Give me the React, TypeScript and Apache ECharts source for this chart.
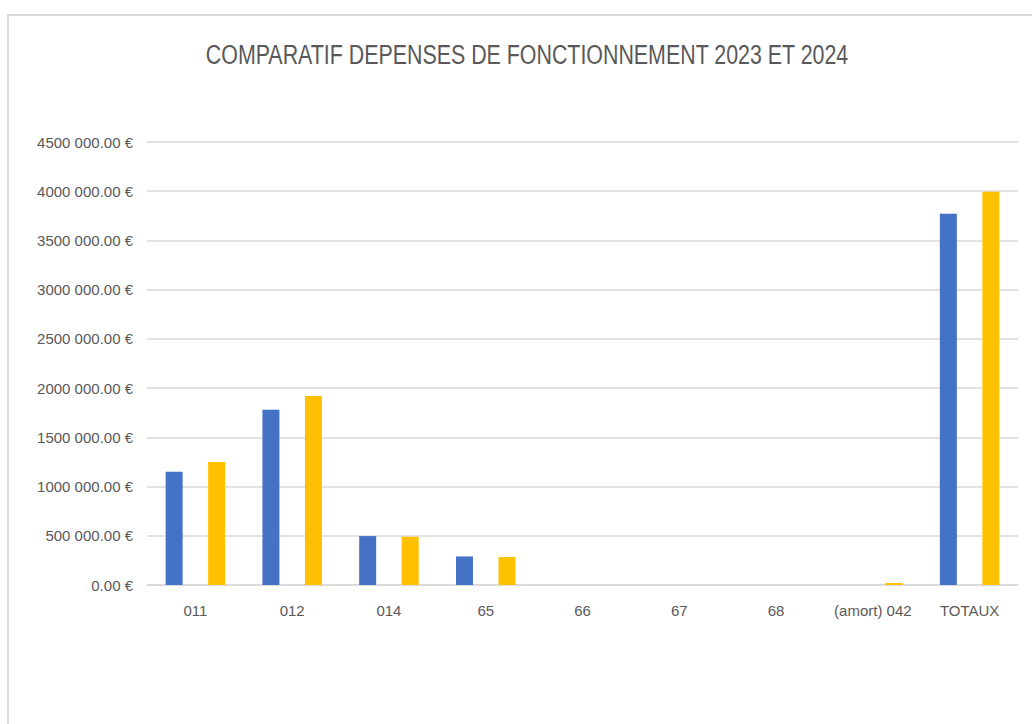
import React, { useEffect, useRef } from "react";
import * as echarts from "echarts";

const TITLE = "COMPARATIF DEPENSES DE FONCTIONNEMENT 2023 ET 2024";
const categories = ["011", "012", "014", "65", "66", "67", "68", "(amort) 042", "TOTAUX"];
const values2023 = [1150000, 1780000, 497000, 290000, 0, 0, 0, 0, 3770000];
const values2024 = [1250000, 1920000, 490000, 285000, 0, 0, 0, 20000, 3995000];
const yMin = 0;
const yMax = 4500000;
const yStep = 500000;

function formatEuro(v: number): string {
  if (v < 1000) return v.toFixed(2) + " €";
  const thousands = Math.floor(v / 1000);
  const rest = String(Math.round(v % 1000)).padStart(3, "0");
  return thousands + " " + rest + ".00 €";
}

export default function App() {
  const ref = useRef<HTMLDivElement>(null);
  useEffect(() => {
    if (!ref.current) return;
    const chart = echarts.init(ref.current, undefined, { renderer: "svg" });
    const font = "'Liberation Sans', Arial, sans-serif";
    chart.setOption({
      animation: false,
      backgroundColor: "#ffffff",
      textStyle: { fontFamily: font },
      graphic: [
        {
          type: "rect",
          shape: { x: 8, y: 15, width: 1200, height: 900 },
          style: { fill: "none", stroke: "#dadada", lineWidth: 2 },
          silent: true,
        },
        {
          type: "text",
          x: 527,
          y: 54,
          scaleY: 1.3,
          style: {
            text: TITLE,
            fontFamily: font,
            fontSize: 21.4,
            fill: "#595959",
            textAlign: "center",
            textVerticalAlign: "middle",
          },
        },
      ],
      grid: { left: 147, right: 14, top: 142, bottom: 139, containLabel: false },
      xAxis: {
        type: "category",
        data: categories,
        axisTick: { show: false },
        axisLine: { lineStyle: { color: "#d9d9d9", width: 1.5 } },
        axisLabel: {
          color: "#595959",
          fontSize: 15,
          margin: 18,
          interval: 0,
          hideOverlap: false,
          fontFamily: font,
        },
      },
      yAxis: {
        type: "value",
        min: yMin,
        max: yMax,
        interval: yStep,
        axisLine: { show: false },
        axisTick: { show: false },
        splitLine: { lineStyle: { color: "#d9d9d9", width: 1.5 } },
        axisLabel: {
          color: "#595959",
          fontSize: 15,
          margin: 14,
          fontFamily: font,
          formatter: (v: number) => formatEuro(v),
        },
      },
      series: [
        {
          name: "2023",
          type: "bar",
          data: values2023,
          barWidth: 17,
          barGap: "150%",
          itemStyle: { color: "#4472C4" },
        },
        {
          name: "2024",
          type: "bar",
          data: values2024,
          barWidth: 17,
          barGap: "150%",
          itemStyle: { color: "#FFC000" },
        },
      ],
    });
    return () => chart.dispose();
  }, []);
  return (
    <div
      ref={ref}
      style={{ position: "fixed", left: 0, top: 0, width: 1032, height: 724 }}
    />
  );
}
